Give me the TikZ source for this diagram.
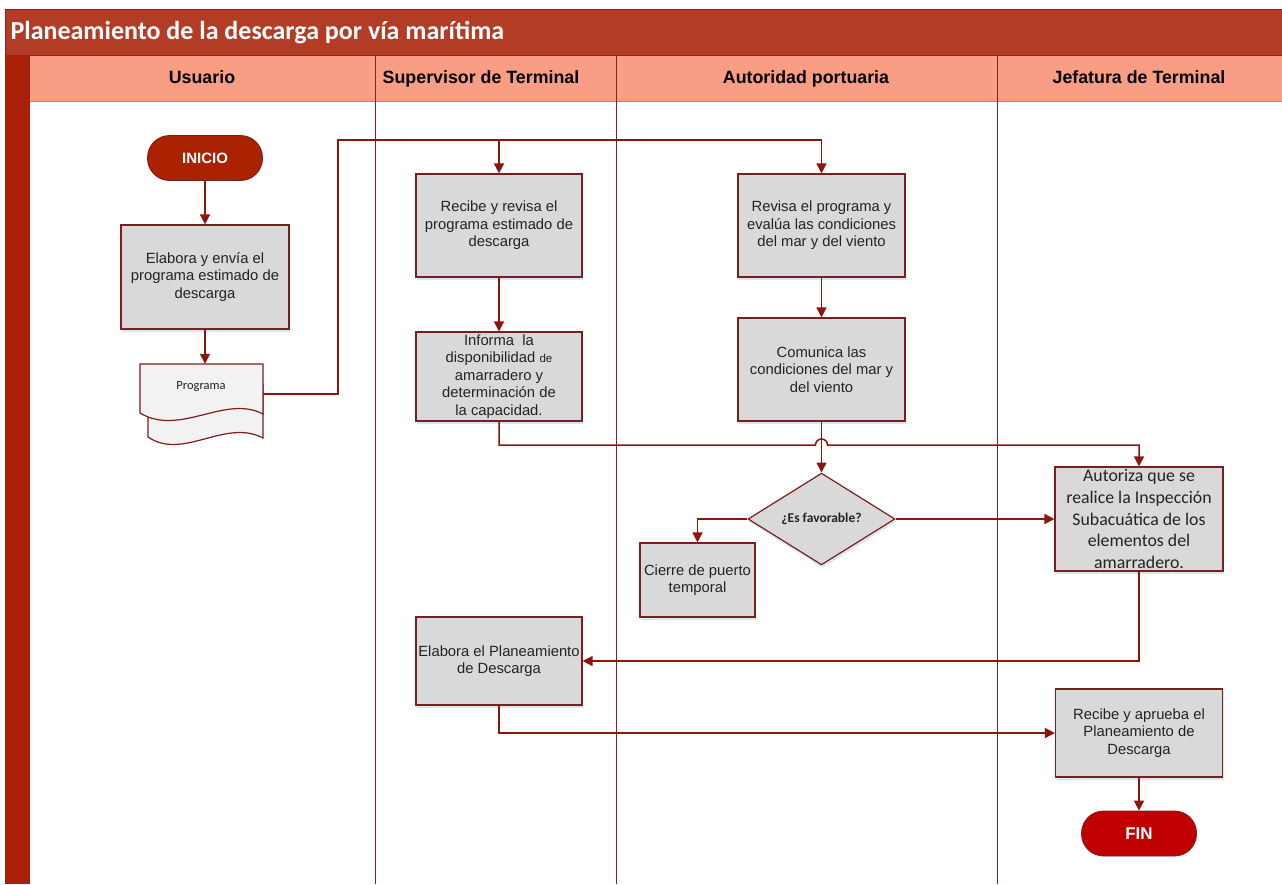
\documentclass[tikz,border=0pt]{standalone}
\usepackage{fontspec}
\setmainfont{Liberation Sans}
\newfontfamily\calfont{Carlito}
\usetikzlibrary{arrows.meta,shapes.geometric,shadows}

\definecolor{titlered}{RGB}{178,60,38}
\definecolor{titleedge}{RGB}{150,30,20}
\definecolor{stripred}{RGB}{168,32,8}
\definecolor{headsalmon}{RGB}{249,157,133}
\definecolor{wire}{RGB}{140,22,12}
\definecolor{edgered}{RGB}{125,30,30}
\definecolor{lanered}{RGB}{140,30,30}
\definecolor{boxgray}{RGB}{217,217,217}
\definecolor{docgray}{RGB}{242,242,242}
\definecolor{startred}{RGB}{170,34,0}
\definecolor{endred}{RGB}{192,0,0}
\definecolor{glow}{RGB}{205,220,238}
\definecolor{inktext}{RGB}{35,35,35}

\tikzset{
  task/.style={draw=edgered, line width=1.2pt, fill=boxgray, align=center,
    inner sep=2pt, text=inktext, font=\fontsize{14.8}{17.5}\selectfont,
    drop shadow={shadow xshift=1pt, shadow yshift=-3pt, fill=glow, opacity=.7}},
  terminal/.style={draw=edgered, line width=0.8pt, rounded corners=22pt,
    minimum width=115pt, minimum height=45pt, inner sep=0pt, text=white,
    font=\bfseries\fontsize{15}{17}\selectfont},
  decision/.style={diamond, draw=edgered, line width=1.2pt, fill=boxgray,
    inner sep=0pt, minimum width=147pt, minimum height=88pt, text=inktext,
    font=\calfont\bfseries\fontsize{13.5}{15}\selectfont},
  flow/.style={draw=wire, line width=1.5pt, -{Triangle[length=10pt,width=10pt]}},
  lane/.style={draw=lanered, line width=0.9pt},
  lanehead/.style={anchor=base, font=\bfseries\fontsize{17.8}{20}\selectfont, text=black}
}

\begin{document}
\begin{tikzpicture}[x=1pt,y=-1pt]
\useasboundingbox (0,0) rectangle (1282,884);
\fill[white] (0,0) rectangle (1282,884);

% title bar, left strip and lane headers
\fill[titlered] (5,9) rectangle (1282,55);
\draw[titleedge, line width=1pt] (5,9) -- (1282,9) (5,9) -- (5,55);
\node[anchor=base west, text=white, font=\calfont\bfseries\fontsize{26}{28}\selectfont]
  (title) at (7,39) {Planeamiento de la descarga por vía marítima};
\fill[stripred] (5,55) rectangle (30,884);
\fill[headsalmon] (30,55) rectangle (1282,101);
\draw[titleedge, line width=1pt] (30,55) -- (1282,55);
\draw[headsalmon!70!red, line width=0.6pt] (30,101) -- (1282,101);

\foreach \lx in {375,616,997} { \draw[lane] (\lx,55) -- (\lx,884); }

\node[lanehead] (h1) at (202,83) {Usuario};
\node[lanehead] (h2) at (481,83) {Supervisor de Terminal};
\node[lanehead] (h3) at (806,83) {Autoridad portuaria};
\node[lanehead] (h4) at (1139,83) {Jefatura de Terminal};

% Usuario
\node[terminal, fill=startred] (inicio) at (205,158) {INICIO};
\node[task, minimum width=168pt, minimum height=104pt] (elab) at (205,277)
  {Elabora y envía el\\programa estimado de\\descarga};

% multi-page document symbol
\filldraw[draw=edgered, line width=1.2pt, fill=docgray]
  (148,384) -- (263,384) -- (263,438)
  .. controls (225,418) and (183,461) .. (148,437) -- cycle;
\filldraw[draw=edgered, line width=1.2pt, fill=docgray]
  (140,364) -- (263,364) -- (263,414)
  .. controls (225,394) and (180,437) .. (140,413) -- cycle;
\node[minimum width=123pt, minimum height=60pt, inner sep=0pt] (prog) at (201.5,394) {};
\node[font=\calfont\fontsize{12.5}{14}\selectfont, text=inktext] (progtxt) at (201,387) {Programa};

% Supervisor de Terminal
\node[task, minimum width=166pt, minimum height=103pt] (recibe) at (499,225.5)
  {Recibe y revisa el\\programa estimado de\\descarga};
\node[task, minimum width=166pt, minimum height=89pt] (inform) at (499,376.5)
  {Informa~ la\\disponibilidad {\fontsize{11.5}{13}\selectfont de}\\amarradero y\\determinación de\\la capacidad.};
\node[task, minimum width=166pt, minimum height=88pt] (elabplan) at (499,661)
  {Elabora el Planeamiento\\de Descarga};

% Autoridad portuaria
\node[task, minimum width=167pt, minimum height=103pt] (revisa) at (821.5,225.5)
  {Revisa el programa y\\evalúa las condiciones\\del mar y del viento};
\node[task, minimum width=167pt, minimum height=103pt] (comunica) at (821.5,369.5)
  {Comunica las\\condiciones del mar y\\del viento};
\node[decision, drop shadow={shadow xshift=1pt, shadow yshift=-3pt, fill=glow, opacity=.7}]
  (fav) at (821.5,519) {¿Es favorable?};
\node[task, minimum width=115pt, minimum height=74pt] (cierre) at (697.5,580)
  {Cierre de puerto\\temporal};

% Jefatura de Terminal
\node[task, minimum width=168pt, minimum height=104pt,
  font=\calfont\fontsize{17.8}{21.7}\selectfont] (autoriza) at (1139,519)
  {Autoriza que se\\realice la Inspección\\Subacuática de los\\elementos del\\amarradero.};
\node[task, minimum width=167pt, minimum height=88pt] (aprueba) at (1139,733)
  {Recibe y aprueba el\\Planeamiento de\\Descarga};
\node[terminal, fill=endred, font=\bfseries\fontsize{17}{19}\selectfont] (fin) at (1139,833.5) {FIN};

% connectors
\coordinate (bus) at (338,140);
\coordinate (hop) at (821.5,445);

\draw[flow] (inicio.south) -- (elab.north);
\draw[flow] (elab.south) -- (elab.south |- prog.north);
\draw[flow] (prog.east) -| (bus) -| (recibe.north);
\draw[flow] (bus) -| (revisa.north);
\draw[flow] (recibe.south) -- (inform.north);
\draw[flow] (revisa.south) -- (comunica.north);
\draw[flow] (comunica.south) -- (fav.north);
\draw[flow] (inform.south) |- ([xshift=-6pt]hop)
  arc[start angle=180, end angle=0, radius=6pt] -| (autoriza.north);
\draw[flow] (fav.west) -| (cierre.north);
\draw[flow] (fav.east) -- (autoriza.west);
\draw[flow] (autoriza.south) |- (elabplan.east);
\draw[flow] (elabplan.south) |- (aprueba.west);
\draw[flow] (aprueba.south) -- (fin.north);
\end{tikzpicture}
\end{document}
